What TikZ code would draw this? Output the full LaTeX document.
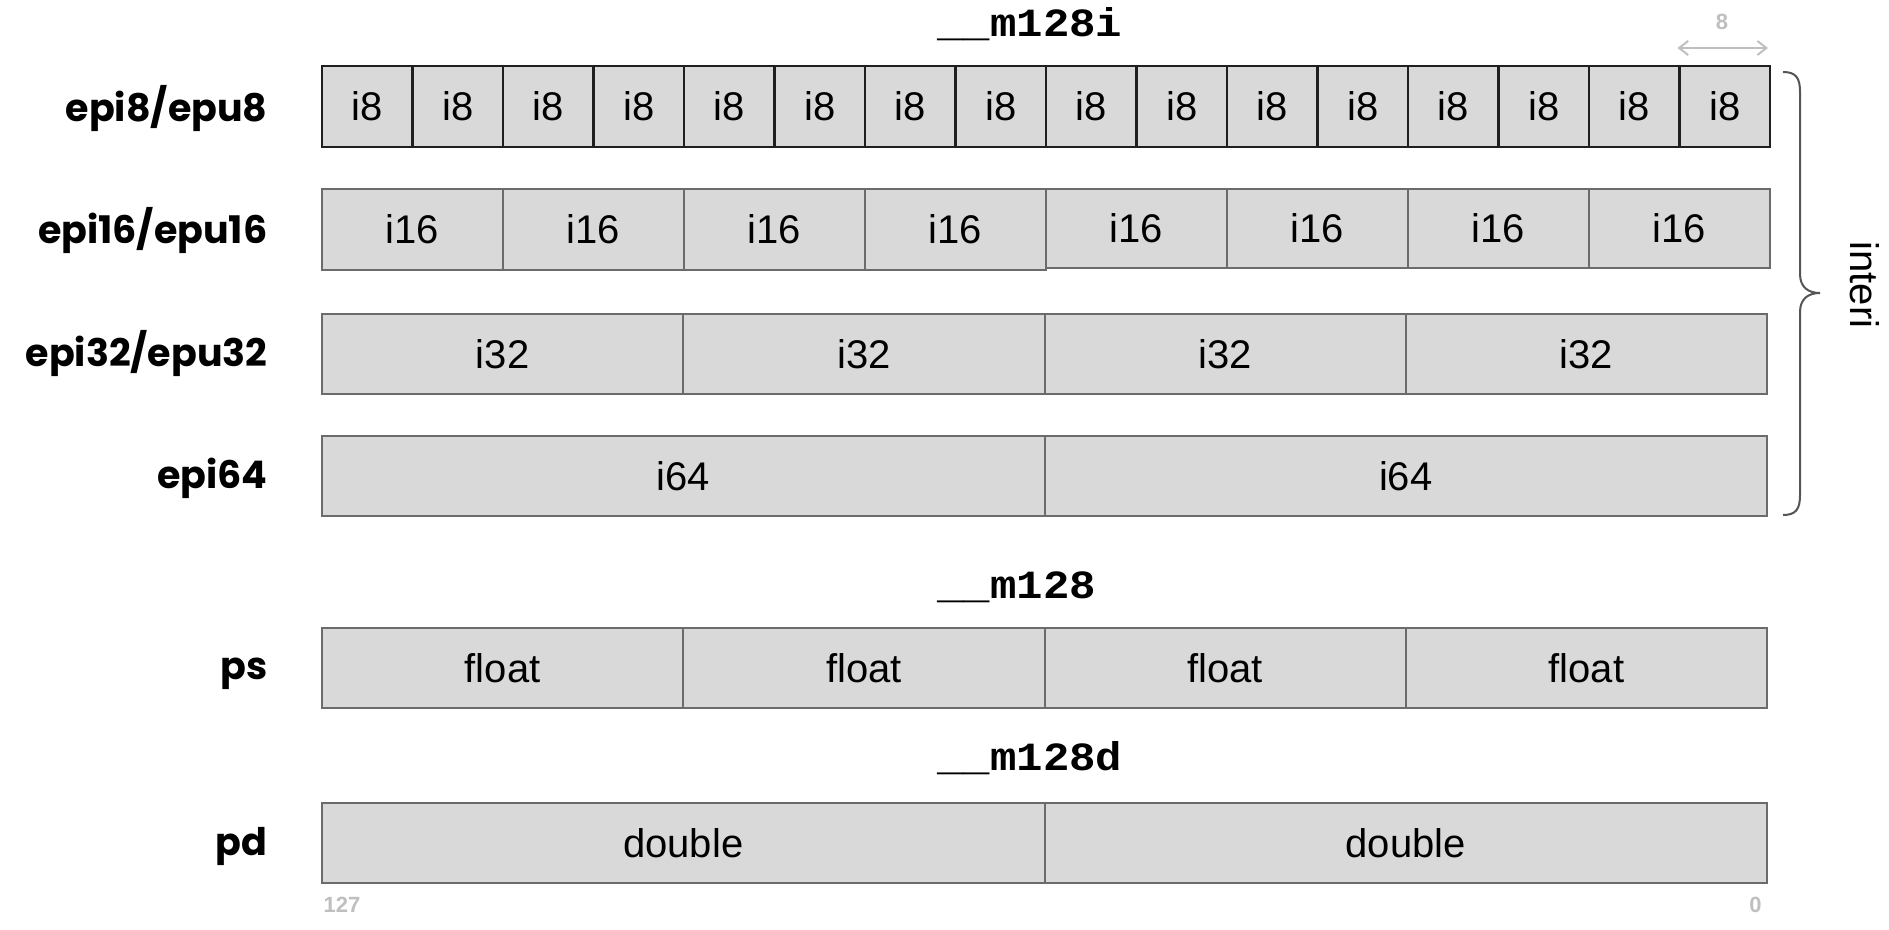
\documentclass[tikz,border=0pt]{standalone}
\usepackage{fontspec}
\setmainfont{Liberation Sans}
\newfontfamily\lblfont{Poppins}
\newfontfamily\codefont{Liberation Mono}[FakeStretch=1.1]
\usetikzlibrary{arrows.meta}
\definecolor{cellfill}{HTML}{D9D9D9}
\definecolor{cellline}{HTML}{6B6B6B}
\definecolor{darkline}{HTML}{1F1F1F}
\definecolor{faint}{HTML}{BFBFBF}
\definecolor{bracecol}{HTML}{555555}
\begin{document}
\begin{tikzpicture}[x=1pt,y=-1pt,
  cell/.style={draw=cellline, fill=cellfill, line width=2pt, inner sep=0pt, outer sep=0pt,
    anchor=north west, font=\fontsize{40}{48}\selectfont},
  cell8/.style={cell, draw=darkline, line width=2.4pt},
  rowlabel/.style={anchor=base east, font=\lblfont\bfseries\fontsize{38}{46}\selectfont},
  typelabel/.style={anchor=base west, font=\codefont\bfseries\fontsize{40}{48}\selectfont},
  bitlabel/.style={text=faint, font=\bfseries\fontsize{22}{26}\selectfont},
]
\useasboundingbox (0,0) rectangle (1889,929);
\fill[white] (0,0) rectangle (1889,929);

% type titles
\node[typelabel] (t128i) at (934,36) {\_\_m128i};
\node[typelabel] (t128) at (934,598) {\_\_m128};
\node[typelabel] (t128d) at (934,770) {\_\_m128d};

% row labels
\node[rowlabel] (l8) at (271,121) {epi8/epu8};
\node[rowlabel] (l16) at (271,243) {epi16/epu16};
\node[rowlabel] (l32) at (271,366) {epi32/epu32};
\node[rowlabel] (l64) at (271,488) {epi64};
\node[rowlabel] (lps) at (271,679) {ps};
\node[rowlabel] (lpd) at (271,855) {pd};

% i8 row
\foreach \i in {0,...,15}
  \node[cell8, minimum width=90.5pt, minimum height=81pt] (a\i) at ({322+90.5*\i},66) {i8};
% i16 row
\foreach \i in {0,...,3}
  \node[cell, minimum width=181pt, minimum height=81pt] (b\i) at ({322+181*\i},189) {i16};
\foreach \i in {4,...,7}
  \node[cell, minimum width=181pt, minimum height=79pt] (b\i) at ({322+181*\i},189) {i16};
% i32 row
\foreach \i in {0,...,3}
  \node[cell, minimum width=361.25pt, minimum height=80pt] (c\i) at ({322+361.25*\i},314) {i32};
% i64 row
\foreach \i in {0,1}
  \node[cell, minimum width=722.5pt, minimum height=80pt] (d\i) at ({322+722.5*\i},436) {i64};
% ps row
\foreach \i in {0,...,3}
  \node[cell, minimum width=361.25pt, minimum height=80pt] (p\i) at ({322+361.25*\i},628) {float};
% pd row
\foreach \i in {0,1}
  \node[cell, minimum width=722.5pt, minimum height=80pt] (q\i) at ({322+722.5*\i},803) {double};

% bit width marker
\coordinate (wl) at ([yshift=18pt]a15.north west);
\coordinate (wr) at ([yshift=18pt]a15.north east);
\draw[faint, line width=2pt, {Straight Barb[length=9pt,width=14pt]}-{Straight Barb[length=9pt,width=14pt]}] ([xshift=-2pt]wl) -- ([xshift=-2pt]wr);
\node[bitlabel, anchor=base] (w8) at (1722,29) {8};

% bit indices
\node[bitlabel, anchor=base west] (b127) at (320,912) {127};
\node[bitlabel, anchor=base east] (b0) at (1765,912) {0};

% brace
\draw[bracecol, line width=2pt]
  (1783,72) .. controls (1796,72) and (1800,78) .. (1800,92)
  -- (1800,274) .. controls (1800,287) and (1808,293) .. (1820,293)
  .. controls (1808,293) and (1800,299) .. (1800,312)
  -- (1800,495) .. controls (1800,509) and (1796,515) .. (1783,515);
\node[rotate=-90, font=\fontsize{40}{48}\selectfont] (interi) at (1865,285) {interi};
\end{tikzpicture}
\end{document}
